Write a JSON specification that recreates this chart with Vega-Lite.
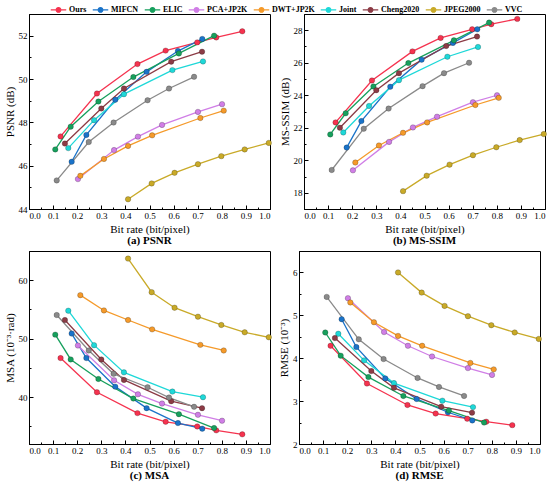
{
  "$schema": "https://vega.github.io/schema/vega-lite/v6.json",
  "padding": {"left": 3, "top": 1, "right": 4, "bottom": 0},
  "data": {
    "values": [
      {"m": "Ours", "x": 0.131, "psnr": 47.35, "ssim": 22.33, "msa": 46.69, "rmse": 4.29},
      {"m": "Ours", "x": 0.282, "psnr": 49.33, "ssim": 24.91, "msa": 40.85, "rmse": 3.41},
      {"m": "Ours", "x": 0.45, "psnr": 50.69, "ssim": 26.7, "msa": 37.28, "rmse": 2.91},
      {"m": "Ours", "x": 0.567, "psnr": 51.31, "ssim": 27.53, "msa": 35.8, "rmse": 2.71},
      {"m": "Ours", "x": 0.698, "psnr": 51.69, "ssim": 28.06, "msa": 35.0, "rmse": 2.59},
      {"m": "Ours", "x": 0.777, "psnr": 51.92, "ssim": 28.37, "msa": 34.33, "rmse": 2.52},
      {"m": "Ours", "x": 0.885, "psnr": 52.2, "ssim": 28.7, "msa": 33.65, "rmse": 2.44},
      {"m": "MIFCN", "x": 0.177, "psnr": 46.18, "ssim": 20.78, "msa": 50.88, "rmse": 4.91},
      {"m": "MIFCN", "x": 0.238, "psnr": 47.42, "ssim": 22.41, "msa": 46.69, "rmse": 4.26},
      {"m": "MIFCN", "x": 0.358, "psnr": 49.04, "ssim": 24.52, "msa": 41.81, "rmse": 3.53},
      {"m": "MIFCN", "x": 0.488, "psnr": 50.33, "ssim": 26.19, "msa": 38.13, "rmse": 3.05},
      {"m": "MIFCN", "x": 0.618, "psnr": 51.29, "ssim": 27.22, "msa": 35.58, "rmse": 2.74},
      {"m": "MIFCN", "x": 0.719, "psnr": 51.85, "ssim": 28.06, "msa": 34.62, "rmse": 2.55},
      {"m": "ELIC", "x": 0.109, "psnr": 46.75, "ssim": 21.59, "msa": 50.7, "rmse": 4.6},
      {"m": "ELIC", "x": 0.173, "psnr": 47.8, "ssim": 22.89, "msa": 46.46, "rmse": 4.06},
      {"m": "ELIC", "x": 0.288, "psnr": 48.96, "ssim": 24.54, "msa": 43.12, "rmse": 3.56},
      {"m": "ELIC", "x": 0.433, "psnr": 50.09, "ssim": 25.98, "msa": 39.77, "rmse": 3.12},
      {"m": "ELIC", "x": 0.622, "psnr": 51.18, "ssim": 27.38, "msa": 37.1, "rmse": 2.78},
      {"m": "ELIC", "x": 0.768, "psnr": 52.0, "ssim": 28.47, "msa": 34.73, "rmse": 2.5},
      {"m": "PCA+JP2K", "x": 0.203, "psnr": 45.38, "ssim": 19.38, "msa": 48.84, "rmse": 5.4},
      {"m": "PCA+JP2K", "x": 0.353, "psnr": 46.72, "ssim": 21.13, "msa": 42.9, "rmse": 4.61},
      {"m": "PCA+JP2K", "x": 0.452, "psnr": 47.34, "ssim": 22.02, "msa": 40.5, "rmse": 4.29},
      {"m": "PCA+JP2K", "x": 0.552, "psnr": 47.88, "ssim": 22.68, "msa": 38.92, "rmse": 4.04},
      {"m": "PCA+JP2K", "x": 0.701, "psnr": 48.48, "ssim": 23.57, "msa": 36.99, "rmse": 3.77},
      {"m": "PCA+JP2K", "x": 0.801, "psnr": 48.84, "ssim": 24.0, "msa": 35.98, "rmse": 3.61},
      {"m": "DWT+JP2K", "x": 0.213, "psnr": 45.53, "ssim": 19.86, "msa": 57.45, "rmse": 5.3},
      {"m": "DWT+JP2K", "x": 0.311, "psnr": 46.31, "ssim": 20.91, "msa": 54.84, "rmse": 4.84},
      {"m": "DWT+JP2K", "x": 0.411, "psnr": 46.91, "ssim": 21.69, "msa": 53.2, "rmse": 4.52},
      {"m": "DWT+JP2K", "x": 0.511, "psnr": 47.4, "ssim": 22.33, "msa": 51.6, "rmse": 4.29},
      {"m": "DWT+JP2K", "x": 0.711, "psnr": 48.2, "ssim": 23.4, "msa": 48.95, "rmse": 3.89},
      {"m": "DWT+JP2K", "x": 0.808, "psnr": 48.54, "ssim": 23.84, "msa": 47.99, "rmse": 3.74},
      {"m": "Joint", "x": 0.163, "psnr": 46.81, "ssim": 21.71, "msa": 54.79, "rmse": 4.57},
      {"m": "Joint", "x": 0.27, "psnr": 48.1, "ssim": 23.34, "msa": 48.9, "rmse": 3.95},
      {"m": "Joint", "x": 0.394, "psnr": 49.3, "ssim": 24.93, "msa": 44.25, "rmse": 3.42},
      {"m": "Joint", "x": 0.595, "psnr": 50.41, "ssim": 26.37, "msa": 40.96, "rmse": 3.01},
      {"m": "Joint", "x": 0.722, "psnr": 50.81, "ssim": 26.97, "msa": 40.0, "rmse": 2.86},
      {"m": "Cheng2020", "x": 0.149, "psnr": 47.02, "ssim": 22.0, "msa": 53.2, "rmse": 4.47},
      {"m": "Cheng2020", "x": 0.3, "psnr": 48.64, "ssim": 24.31, "msa": 46.46, "rmse": 3.7},
      {"m": "Cheng2020", "x": 0.394, "psnr": 49.56, "ssim": 25.36, "msa": 42.95, "rmse": 3.31},
      {"m": "Cheng2020", "x": 0.59, "psnr": 50.8, "ssim": 27.03, "msa": 39.32, "rmse": 2.87},
      {"m": "Cheng2020", "x": 0.718, "psnr": 51.26, "ssim": 27.61, "msa": 38.13, "rmse": 2.73},
      {"m": "JPEG2000", "x": 0.411, "psnr": 44.45, "ssim": 18.1, "msa": 63.7, "rmse": 6.0},
      {"m": "JPEG2000", "x": 0.509, "psnr": 45.18, "ssim": 19.05, "msa": 57.96, "rmse": 5.53},
      {"m": "JPEG2000", "x": 0.604, "psnr": 45.67, "ssim": 19.73, "msa": 55.3, "rmse": 5.22},
      {"m": "JPEG2000", "x": 0.701, "psnr": 46.07, "ssim": 20.31, "msa": 53.77, "rmse": 4.98},
      {"m": "JPEG2000", "x": 0.798, "psnr": 46.44, "ssim": 20.8, "msa": 52.35, "rmse": 4.77},
      {"m": "JPEG2000", "x": 0.895, "psnr": 46.75, "ssim": 21.24, "msa": 51.1, "rmse": 4.6},
      {"m": "JPEG2000", "x": 0.995, "psnr": 47.05, "ssim": 21.61, "msa": 50.25, "rmse": 4.45},
      {"m": "VVC", "x": 0.115, "psnr": 45.32, "ssim": 19.4, "msa": 54.05, "rmse": 5.43},
      {"m": "VVC", "x": 0.248, "psnr": 47.09, "ssim": 21.94, "msa": 47.99, "rmse": 4.44},
      {"m": "VVC", "x": 0.351, "psnr": 47.99, "ssim": 23.18, "msa": 44.0, "rmse": 3.98},
      {"m": "VVC", "x": 0.492, "psnr": 49.02, "ssim": 24.56, "msa": 41.7, "rmse": 3.54},
      {"m": "VVC", "x": 0.581, "psnr": 49.56, "ssim": 25.36, "msa": 39.94, "rmse": 3.33},
      {"m": "VVC", "x": 0.685, "psnr": 50.1, "ssim": 26.0, "msa": 38.36, "rmse": 3.12}
    ]
  },
  "vconcat": [
    {
      "hconcat": [
        {
          "width": 241,
          "height": 195,
          "title": {"text": "(a)  PSNR"},
          "encoding": {
            "x": {"field": "x", "type": "quantitative", "scale": {"domain": [0, 1]},
              "axis": {"title": "Bit rate (bit/pixel)", "values": [0, 0.05, 0.1, 0.15, 0.2, 0.25, 0.3, 0.35, 0.4, 0.45, 0.5, 0.55, 0.6, 0.65, 0.7, 0.75, 0.8, 0.85, 0.9, 0.95, 1],
                "labelExpr": "abs(datum.value * 10 - round(datum.value * 10)) < 0.01 ? format(datum.value, '.1f') : ''",
                "tickSize": {"condition": {"test": "abs(datum.value * 10 - round(datum.value * 10)) < 0.01", "value": -4}, "value": -2}}},
            "y": {"field": "psnr", "type": "quantitative", "scale": {"domain": [44, 53]},
              "axis": {"title": "PSNR (dB)", "values": [44, 45, 46, 47, 48, 49, 50, 51, 52, 53],
                "labelExpr": "datum.value % 2 == 0 ? datum.value : ''",
                "tickSize": {"condition": {"test": "datum.value % 2 == 0", "value": -4}, "value": -2}}},
            "color": {"field": "m", "type": "nominal", "scale": {"domain": ["Ours", "MIFCN", "ELIC", "PCA+JP2K", "DWT+JP2K", "Joint", "Cheng2020", "JPEG2000", "VVC"]}}
          },
          "layer": [
            {"mark": {"type": "line", "strokeWidth": 1.3}},
            {"mark": {"type": "point", "filled": true, "size": 30, "opacity": 1, "stroke": "black", "strokeOpacity": 0.35, "strokeWidth": 0.6}}
          ]
        },
        {
          "width": 241,
          "height": 195,
          "title": {"text": "(b)  MS-SSIM"},
          "encoding": {
            "x": {"field": "x", "type": "quantitative", "scale": {"domain": [0, 1]},
              "axis": {"title": "Bit rate (bit/pixel)", "values": [0, 0.05, 0.1, 0.15, 0.2, 0.25, 0.3, 0.35, 0.4, 0.45, 0.5, 0.55, 0.6, 0.65, 0.7, 0.75, 0.8, 0.85, 0.9, 0.95, 1],
                "labelExpr": "abs(datum.value * 10 - round(datum.value * 10)) < 0.01 ? format(datum.value, '.1f') : ''",
                "tickSize": {"condition": {"test": "abs(datum.value * 10 - round(datum.value * 10)) < 0.01", "value": -4}, "value": -2}}},
            "y": {"field": "ssim", "type": "quantitative", "scale": {"domain": [17, 29]},
              "axis": {"title": "MS-SSIM (dB)", "values": [17, 18, 19, 20, 21, 22, 23, 24, 25, 26, 27, 28, 29],
                "labelExpr": "datum.value % 2 == 0 ? datum.value : ''",
                "tickSize": {"condition": {"test": "datum.value % 2 == 0", "value": -4}, "value": -2}}},
            "color": {"field": "m", "type": "nominal", "scale": {"domain": ["Ours", "MIFCN", "ELIC", "PCA+JP2K", "DWT+JP2K", "Joint", "Cheng2020", "JPEG2000", "VVC"]}}
          },
          "layer": [
            {"mark": {"type": "line", "strokeWidth": 1.3}},
            {"mark": {"type": "point", "filled": true, "size": 30, "opacity": 1, "stroke": "black", "strokeOpacity": 0.35, "strokeWidth": 0.6}}
          ]
        }
      ]
    },
    {
      "hconcat": [
        {
          "width": 241,
          "height": 193,
          "title": {"text": "(c)  MSA"},
          "encoding": {
            "x": {"field": "x", "type": "quantitative", "scale": {"domain": [0, 1]},
              "axis": {"title": "Bit rate (bit/pixel)", "values": [0, 0.05, 0.1, 0.15, 0.2, 0.25, 0.3, 0.35, 0.4, 0.45, 0.5, 0.55, 0.6, 0.65, 0.7, 0.75, 0.8, 0.85, 0.9, 0.95, 1],
                "labelExpr": "abs(datum.value * 10 - round(datum.value * 10)) < 0.01 ? format(datum.value, '.1f') : ''",
                "tickSize": {"condition": {"test": "abs(datum.value * 10 - round(datum.value * 10)) < 0.01", "value": -4}, "value": -2}}},
            "y": {"field": "msa", "type": "quantitative", "scale": {"domain": [32, 65]},
              "axis": {"title": "MSA (10⁻³·rad)", "values": [35, 40, 45, 50, 55, 60, 65],
                "labelExpr": "datum.value % 10 == 0 ? datum.value : ''",
                "tickSize": {"condition": {"test": "datum.value % 10 == 0", "value": -4}, "value": -2}}},
            "color": {"field": "m", "type": "nominal", "scale": {"domain": ["Ours", "MIFCN", "ELIC", "PCA+JP2K", "DWT+JP2K", "Joint", "Cheng2020", "JPEG2000", "VVC"]}}
          },
          "layer": [
            {"mark": {"type": "line", "strokeWidth": 1.3}},
            {"mark": {"type": "point", "filled": true, "size": 30, "opacity": 1, "stroke": "black", "strokeOpacity": 0.35, "strokeWidth": 0.6}}
          ]
        },
        {
          "width": 241,
          "height": 193,
          "title": {"text": "(d)  RMSE"},
          "encoding": {
            "x": {"field": "x", "type": "quantitative", "scale": {"domain": [0, 1]},
              "axis": {"title": "Bit rate (bit/pixel)", "values": [0, 0.05, 0.1, 0.15, 0.2, 0.25, 0.3, 0.35, 0.4, 0.45, 0.5, 0.55, 0.6, 0.65, 0.7, 0.75, 0.8, 0.85, 0.9, 0.95, 1],
                "labelExpr": "abs(datum.value * 10 - round(datum.value * 10)) < 0.01 ? format(datum.value, '.1f') : ''",
                "tickSize": {"condition": {"test": "abs(datum.value * 10 - round(datum.value * 10)) < 0.01", "value": -4}, "value": -2}}},
            "y": {"field": "rmse", "type": "quantitative", "scale": {"domain": [2, 6.5]},
              "axis": {"title": "RMSE (10⁻³)", "values": [2, 2.5, 3, 3.5, 4, 4.5, 5, 5.5, 6, 6.5],
                "labelExpr": "datum.value % 1 == 0 ? datum.value : ''",
                "tickSize": {"condition": {"test": "datum.value % 1 == 0", "value": -4}, "value": -2}}},
            "color": {"field": "m", "type": "nominal", "scale": {"domain": ["Ours", "MIFCN", "ELIC", "PCA+JP2K", "DWT+JP2K", "Joint", "Cheng2020", "JPEG2000", "VVC"]}}
          },
          "layer": [
            {"mark": {"type": "line", "strokeWidth": 1.3}},
            {"mark": {"type": "point", "filled": true, "size": 30, "opacity": 1, "stroke": "black", "strokeOpacity": 0.35, "strokeWidth": 0.6}}
          ]
        }
      ]
    }
  ],
  "spacing": 3,
  "resolve": {"scale": {"color": "shared"}},
  "config": {
    "font": "Liberation Serif",
    "view": {"stroke": "black", "strokeWidth": 1},
    "concat": {"spacing": 4},
    "axis": {
      "grid": false,
      "domainColor": "black",
      "tickColor": "black",
      "labelColor": "black",
      "titleColor": "black",
      "labelFont": "Liberation Serif",
      "titleFont": "Liberation Serif",
      "labelFontSize": 9,
      "titleFontSize": 11,
      "titleFontWeight": "normal",
      "labelPadding": 6,
      "titlePadding": 3
    },
    "title": {"orient": "bottom", "font": "Liberation Serif", "fontSize": 11, "fontWeight": "bold", "color": "black", "offset": 1},
    "range": {
      "category": ["#f5334f", "#1a73c9", "#17a05d", "#d07ee6", "#f59a2a", "#1ed8d8", "#8c3b45", "#c9aa28", "#8a8a8a"]
    },
    "legend": {
      "orient": "none",
      "legendX": 21,
      "legendY": -13,
      "direction": "horizontal",
      "columns": 9,
      "title": null,
      "labelFont": "Liberation Serif",
      "labelFontSize": 8,
      "labelFontWeight": "bold",
      "labelColor": "black",
      "symbolType": "M-1,0H-0.3M0.3,0H1M-0.3,0A0.3,0.3 0 1,1 0.3,0A0.3,0.3 0 1,1 -0.3,0",
      "symbolSize": 240,
      "symbolStrokeWidth": 1.2,
      "columnPadding": 3,
      "labelOffset": 2,
      "padding": 0
    }
  }
}
